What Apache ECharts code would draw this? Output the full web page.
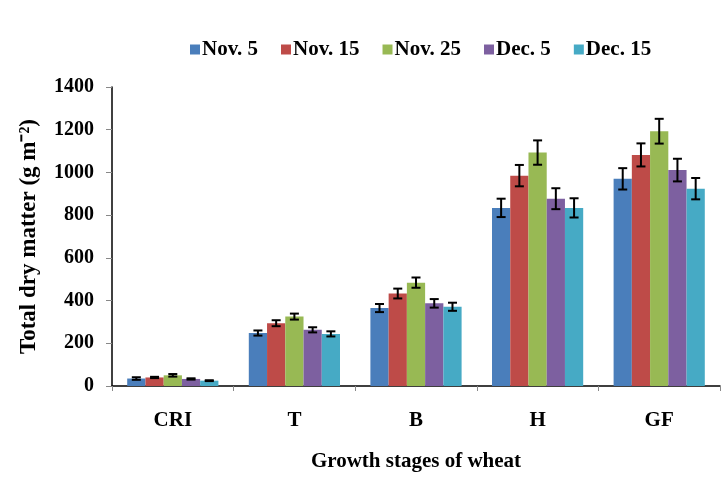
<!DOCTYPE html>
<html><head><meta charset="utf-8">
<script src="https://cdn.jsdelivr.net/npm/echarts@6/dist/echarts.min.js"></script>
<style>html,body{margin:0;padding:0;background:#fff}#c{width:728px;height:477px}</style>
</head><body><div id="c"></div>
<script>
const categories = ['CRI', 'T', 'B', 'H', 'GF'];
const seriesNames = ['Nov. 5', 'Nov. 15', 'Nov. 25', 'Dec. 5', 'Dec. 15'];
const nov5  = [35, 248, 365, 834, 970];
const nov15 = [40, 294, 433, 985, 1082];
const nov25 = [50, 325, 484, 1093, 1193];
const dec5  = [33, 263, 387, 877, 1011];
const dec15 = [25, 244, 371, 834, 924];
const errNov5  = [6, 12, 19, 43, 50];
const errNov15 = [3, 14, 23, 50, 54];
const errNov25 = [6, 14, 24, 57, 58];
const errDec5  = [3, 12, 20, 49, 53];
const errDec15 = [2, 12, 19, 45, 50];
const yTicks = [0, 200, 400, 600, 800, 1000, 1200, 1400];

const values = [nov5, nov15, nov25, dec5, dec15];
const errors = [errNov5, errNov15, errNov25, errDec5, errDec15];
const colors = ['#4a7ebb', '#be4b48', '#98b954', '#7d60a0', '#46aac5'];
const FONT = '"Liberation Serif", "Times New Roman", serif';
const CAT_GAP = 0.25;

const errData = [];
values.forEach((arr, s) => arr.forEach((v, i) => errData.push([i, v, errors[s][i], s])));

function renderErr(params, api) {
  const cat = api.value(0), v = api.value(1), e = api.value(2), s = api.value(3);
  const band = api.size([1, 0])[0];
  const bw = band * (1 - CAT_GAP) / values.length;
  const cx = api.coord([cat, v])[0] - band * (1 - CAT_GAP) / 2 + (s + 0.5) * bw;
  const yt = api.coord([cat, v + e])[1];
  const yb = api.coord([cat, v - e])[1];
  const hw = 4.5;
  const st = { stroke: '#000', lineWidth: 2 };
  return { type: 'group', children: [
    { type: 'line', shape: { x1: cx, y1: yt, x2: cx, y2: yb }, style: st },
    { type: 'line', shape: { x1: cx - hw, y1: yt, x2: cx + hw, y2: yt }, style: st },
    { type: 'line', shape: { x1: cx - hw, y1: yb, x2: cx + hw, y2: yb }, style: st }
  ]};
}

const chart = echarts.init(document.getElementById('c'), null, { renderer: 'canvas' });
chart.setOption({
  animation: false,
  textStyle: { fontFamily: FONT },
  legend: {
    data: seriesNames, left: 185, top: 34, itemWidth: 10, itemHeight: 10, itemGap: 23,
    icon: 'rect',
    textStyle: { fontFamily: FONT, fontWeight: 'bold', fontSize: 21, color: '#000', padding: [0, 0, 0, -3] }
  },
  grid: { left: 112, right: 8, top: 87, bottom: 86.5 },
  xAxis: {
    type: 'category', data: categories,
    axisLine: { lineStyle: { color: '#000', width: 1.5 } },
    axisTick: { show: true, length: 5, lineStyle: { color: '#888' } },
    axisLabel: { fontFamily: FONT, fontWeight: 'bold', fontSize: 21, color: '#000', margin: 24 },
    name: 'Growth stages of wheat', nameLocation: 'middle', nameGap: 65,
    nameTextStyle: { fontFamily: FONT, fontWeight: 'bold', fontSize: 21, color: '#000' }
  },
  yAxis: {
    type: 'value', min: 0, max: 1400, interval: 200,
    axisLine: { show: true, lineStyle: { color: '#000', width: 1.5 } },
    axisTick: { show: true, length: 6, lineStyle: { color: '#888' } },
    splitLine: { show: false },
    axisLabel: { fontFamily: FONT, fontWeight: 'bold', fontSize: 20, color: '#000', margin: 18,
      formatter: v => yTicks.includes(v) ? String(v) : '' },
    name: 'Total dry matter (g m⁻²)', nameLocation: 'middle', nameGap: 71, nameRotate: 90,
    nameTextStyle: { fontFamily: FONT, fontWeight: 'bold', fontSize: 23, color: '#000' }
  },
  series: seriesNames.map((n, s) => ({
    name: n, type: 'bar', data: values[s], barGap: '0%', barCategoryGap: (CAT_GAP * 100) + '%',
    itemStyle: { color: colors[s] }
  })).concat([{
    type: 'custom', renderItem: renderErr, data: errData, z: 10, silent: true,
    encode: { x: 0, y: 1 }
  }])
});
</script></body></html>
